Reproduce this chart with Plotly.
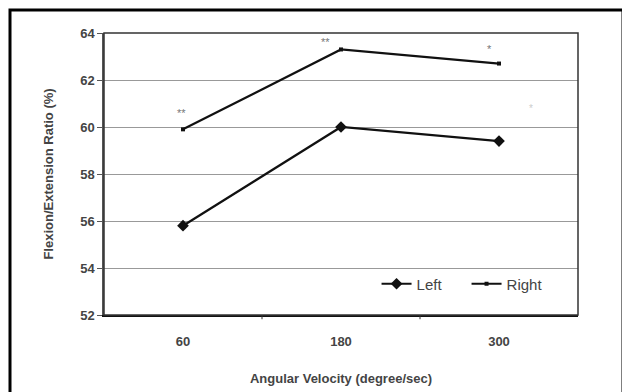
import plotly.graph_objects as go

categories = ["60", "180", "300"]
left_vals = [55.8, 60.0, 59.4]
right_vals = [59.9, 63.3, 62.7]
sig_labels = ["**", "**", "*"]
y_ticks = [52, 54, 56, 58, 60, 62, 64]

fig = go.Figure()
fig.add_trace(go.Scatter(x=categories, y=left_vals, name="Left", mode="lines+markers",
                         line=dict(color="#111", width=2.2),
                         marker=dict(symbol="diamond", size=9, color="#111")))
fig.add_trace(go.Scatter(x=categories, y=right_vals, name="Right", mode="lines+markers",
                         line=dict(color="#111", width=2.2),
                         marker=dict(symbol="square", size=4, color="#111")))

sig_xshift = [-2, -16, -10]
sig_yshift = [16, 7, 15]
for i, (v, s, dx, dy) in enumerate(zip(right_vals, sig_labels, sig_xshift, sig_yshift)):
    fig.add_annotation(x=i, y=v, text=s, showarrow=False, xshift=dx, yshift=dy,
                       font=dict(family="Arial", size=11, color="#777"))
fig.add_annotation(x=2.2, y=60.8, text="*", showarrow=False,
                   font=dict(family="Arial", size=10, color="#ccc"))

W, H = 622, 384
L, R, T, B = 96, 52, 25, 77
pw, ph = W - L - R, H - T - B

fig.update_layout(
    width=W, height=H,
    margin=dict(l=L, r=R, t=T, b=B),
    paper_bgcolor="white", plot_bgcolor="white",
    font=dict(family="Arial", color="#444", size=13),
    showlegend=True,
    legend=dict(orientation="h", x=0.575, y=0.11, xanchor="left", yanchor="middle",
                bgcolor="rgba(0,0,0,0)", font=dict(size=15, color="#444"),
                entrywidth=45, entrywidthmode="pixels", tracegroupgap=0),
    xaxis=dict(type="category", range=[-0.5, 2.5], showgrid=False, automargin=False,
               showline=True, linecolor="#111", linewidth=2, mirror=False,
               ticks="", ticklabelstandoff=13,
               tickfont=dict(size=13, color="#444", weight="bold"),
               title=dict(text="Angular Velocity (degree/sec)",
                          font=dict(size=13, color="#444", weight="bold"),
                          standoff=26)),
    yaxis=dict(range=[52, 64], tickvals=y_ticks, showgrid=True, gridcolor="#999", gridwidth=1,
               automargin=False,
               showline=True, linecolor="#555", linewidth=1.5, ticks="outside", ticklen=5,
               tickcolor="#555", zeroline=False,
               tickfont=dict(size=13, color="#444", weight="bold"),
               title=dict(text="Flexion/Extension Ratio (%)",
                          font=dict(size=13, color="#444", weight="bold"),
                          standoff=24)),
    shapes=[
        dict(type="rect", xref="paper", yref="paper", x0=0, x1=1, y0=0, y1=1,
             line=dict(color="#333", width=1.5)),
        dict(type="line", xref="x", yref="paper", x0=0.5, x1=0.5, y0=0, y1=-0.015,
             line=dict(color="#333", width=1)),
        dict(type="line", xref="x", yref="paper", x0=1.5, x1=1.5, y0=0, y1=-0.015,
             line=dict(color="#333", width=1)),
        dict(type="rect", xref="paper", yref="paper",
             x0=(2 - L) / pw, x1=1 + 45 / pw, y0=-1.0, y1=1 + 23 / ph,
             line=dict(color="black", width=3)),
    ],
)
fig.write_html("out.html")
